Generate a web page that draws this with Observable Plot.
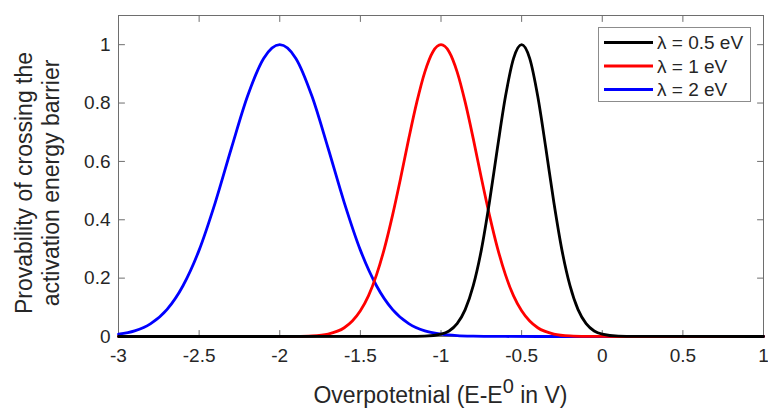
<!DOCTYPE html>
<html><head><meta charset="utf-8">
<script src="https://cdn.jsdelivr.net/npm/d3@7"></script>
<script src="https://cdn.jsdelivr.net/npm/@observablehq/plot@0.6"></script>
<style>
html,body{margin:0;padding:0;background:#fff;}
#chart{width:768px;height:408px;}
</style>
</head><body>
<div id="chart"></div>
<script>
// ---- data ----
const xTicks = [-3, -2.5, -2, -1.5, -1, -0.5, 0, 0.5, 1];
const xTickLabels = ["-3", "-2.5", "-2", "-1.5", "-1", "-0.5", "0", "0.5", "1"];
const yTicks = [0, 0.2, 0.4, 0.6, 0.8, 1];
const yTickLabels = ["0", "0.2", "0.4", "0.6", "0.8", "1"];

const seriesNames = ["λ = 0.5 eV", "λ = 1 eV", "λ = 2 eV"];
const seriesColors = ["#000000", "#ff0000", "#0000ff"];

const blackX = [-3,-1.2,-1.1,-1,-0.95,-0.9,-0.85,-0.8,-0.75,-0.7,-0.65,-0.6,-0.55,-0.5,-0.45,-0.4,-0.35,-0.3,-0.25,-0.2,-0.15,-0.1,-0.05,0,0.1,0.2,1];
const blackY = [0,0.0001,0.001,0.008,0.019,0.044,0.092,0.174,0.296,0.459,0.646,0.823,0.953,1,0.953,0.823,0.646,0.459,0.296,0.174,0.092,0.044,0.019,0.008,0.001,0.0001,0];

const redX = [-3,-2.1,-2,-1.9,-1.8,-1.7,-1.6,-1.55,-1.5,-1.45,-1.4,-1.35,-1.3,-1.25,-1.2,-1.15,-1.1,-1.05,-1,-0.95,-0.9,-0.85,-0.8,-0.75,-0.7,-0.65,-0.6,-0.55,-0.5,-0.45,-0.4,-0.3,-0.2,-0.1,0,0.1,1];
const redY = [0,0,0.0001,0.0004,0.002,0.0085,0.030,0.053,0.088,0.139,0.211,0.304,0.417,0.544,0.678,0.803,0.907,0.976,1,0.976,0.907,0.803,0.678,0.544,0.417,0.304,0.211,0.139,0.088,0.053,0.030,0.0085,0.002,0.0004,0.0001,0,0];

const blueX = [-3,-2.9,-2.8,-2.7,-2.6,-2.5,-2.4,-2.3,-2.2,-2.1,-2,-1.9,-1.8,-1.7,-1.6,-1.5,-1.4,-1.3,-1.2,-1.1,-1,-0.9,-0.8,-0.7,-0.6,-0.4,1];
const blueY = [0.008,0.019,0.044,0.092,0.174,0.296,0.459,0.645,0.823,0.953,1,0.953,0.823,0.645,0.459,0.296,0.174,0.092,0.044,0.019,0.008,0.003,0.001,0.0003,0.0001,0,0];

const xLabelParts = ["Overpotetnial (E-E", "0", " in V)"];
const yLabelLines = ["Provability of crossing the", "activation energy barrier"];

// ---- build ----
const toRows = (xs, ys) => xs.map((x, i) => ({x, y: ys[i]}));
const black = toRows(blackX, blackY);
const red = toRows(redX, redY);
const blue = toRows(blueX, blueY);

const axisColor = "#6e6e6e";
const textColor = "#262626";
const font = "'Liberation Sans', Arial, Helvetica, sans-serif";
const tickShape = {draw(context, l) { context.moveTo(0, 0); context.lineTo(0, -l); }};
const tickOpts = {length: 6, anchor: "start", shape: tickShape, stroke: axisColor, strokeWidth: 1};

const chart = Plot.plot({
  width: 768,
  height: 408,
  marginLeft: 118,
  marginRight: 5,
  marginTop: 15,
  marginBottom: 72,
  style: {fontFamily: font, color: textColor, background: "#fff", overflow: "visible"},
  x: {domain: [-3, 1]},
  y: {domain: [0, 1.1]},
  marks: [
    Plot.frame({stroke: axisColor, strokeWidth: 1}),
    Plot.vectorX(xTicks, {...tickOpts, frameAnchor: "bottom", rotate: 0}),
    Plot.vectorX(xTicks, {...tickOpts, frameAnchor: "top", rotate: 180}),
    Plot.vectorY(yTicks, {...tickOpts, frameAnchor: "left", rotate: 90}),
    Plot.vectorY(yTicks, {...tickOpts, frameAnchor: "right", rotate: -90}),
    Plot.axisX(xTicks, {tickSize: 0, tickPadding: 12, fontSize: 19, tickFormat: d => xTickLabels[xTicks.indexOf(d)], label: null, fill: textColor}),
    Plot.axisY(yTicks, {tickSize: 0, tickPadding: 8, fontSize: 19, tickFormat: d => yTickLabels[yTicks.indexOf(d)], label: null, fill: textColor}),
    Plot.line(blue, {x: "x", y: "y", stroke: seriesColors[2], strokeWidth: 2.8, curve: "monotone-x"}),
    Plot.line(red, {x: "x", y: "y", stroke: seriesColors[1], strokeWidth: 2.8, curve: "monotone-x"}),
    Plot.line(black, {x: "x", y: "y", stroke: seriesColors[0], strokeWidth: 2.8, curve: "monotone-x"})
  ]
});

document.getElementById("chart").appendChild(chart);

const svg = d3.select(chart);
const sx = chart.scale("x");
const cx = (sx.apply(-3) + sx.apply(1)) / 2;

// x label with superscript
const xl = svg.append("text")
  .attr("x", cx).attr("y", 403)
  .attr("text-anchor", "middle")
  .attr("font-size", 23).attr("font-family", font).attr("fill", textColor);
xl.append("tspan").text(xLabelParts[0]);
xl.append("tspan").attr("dy", -10).attr("font-size", 20).text(xLabelParts[1]);
xl.append("tspan").attr("dy", 10).text(xLabelParts[2]);

// y label, two lines
const cy = 183;
yLabelLines.forEach((t, i) => {
  svg.append("text")
    .attr("transform", `translate(${32 + i * 27},${cy}) rotate(-90)`)
    .attr("text-anchor", "middle")
    .attr("font-size", 23).attr("font-family", font).attr("fill", textColor)
    .text(t);
});

// legend
const lg = svg.append("g");
lg.append("rect").attr("x", 598.5).attr("y", 27.5).attr("width", 152).attr("height", 74)
  .attr("fill", "#fff").attr("stroke", "#8c8c8c").attr("stroke-width", 1);
seriesNames.forEach((name, i) => {
  const yy = 42.5 + i * 23.5;
  lg.append("line").attr("x1", 604).attr("x2", 653).attr("y1", yy).attr("y2", yy)
    .attr("stroke", seriesColors[i]).attr("stroke-width", 3);
  lg.append("text").attr("x", 657).attr("y", yy).attr("dy", "0.35em")
    .attr("text-anchor", "start")
    .attr("font-size", 19).attr("font-family", font).attr("fill", textColor).text(name);
});
</script>
</body></html>
